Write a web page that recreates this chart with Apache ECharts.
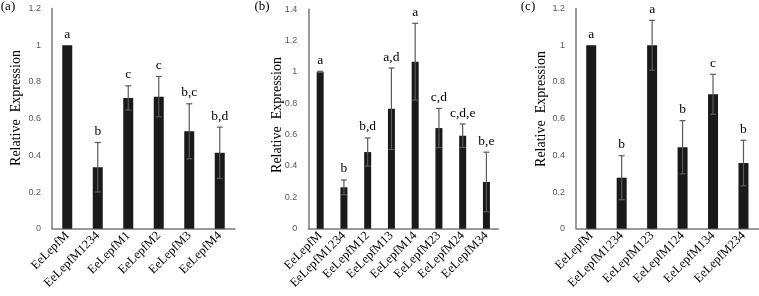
<!DOCTYPE html>
<html>
<head>
<meta charset="utf-8">
<script src="https://cdn.jsdelivr.net/npm/echarts@6/dist/echarts.min.js"></script>
<style>html,body{margin:0;padding:0;background:#fff;}#c{width:759px;height:296px;}</style>
</head>
<body>
<div id="c"></div>
<script>
// Panel (a)
const catsA = ['EeLepfM','EeLepfM1234','EeLepfM1','EeLepfM2','EeLepfM3','EeLepfM4'];
const valsA = [1.0, 0.335, 0.713, 0.72, 0.531, 0.414];
const errsA = [0, 0.135, 0.066, 0.11, 0.15, 0.14];
const lettersA = ['a','b','c','c','b,c','b,d'];
// Panel (b)
const catsB = ['EeLepfM','EeLepfM1234','EeLepfM12','EeLepfM13','EeLepfM14','EeLepfM23','EeLepfM24','EeLepfM34'];
const valsB = [1.0, 0.264, 0.489, 0.765, 1.065, 0.642, 0.593, 0.298];
const errsB = [0.004, 0.047, 0.09, 0.26, 0.245, 0.125, 0.075, 0.19];
const lettersB = ['a','b','b,d','a,d','a','c,d','c,d,e','b,e'];
// Panel (c)
const catsC = ['EeLepfM','EeLepfM1234','EeLepfM123','EeLepfM124','EeLepfM134','EeLepfM234'];
const valsC = [1.0, 0.278, 1.0, 0.444, 0.733, 0.358];
const errsC = [0, 0.12, 0.136, 0.145, 0.109, 0.124];
const lettersC = ['a','b','a','b','c','b'];
// axis ranges
const yMaxA = 1.2, yMaxB = 1.4, yMaxC = 1.2;
const panelLabels = ['(a)','(b)','(c)'];
const yName = 'Relative  Expression';

const serif = '"Liberation Serif","Times New Roman",serif';
const sans = '"Liberation Sans",Arial,sans-serif';
const axisCol = '#7a7a7a';
const barCol = '#1a1a1a';
const errCol = '#5a5a5a';

const panels = [
  {cats: catsA, vals: valsA, errs: errsA, letters: lettersA, max: yMaxA,
   grid: {left: 52, top: 8.6, width: 183, height: 220.1}, bw: 10, nameX: 16, nameY: 108, lab: [8, 7]},
  {cats: catsB, vals: valsB, errs: errsB, letters: lettersB, max: yMaxB,
   grid: {left: 308.3, top: 9.2, width: 190, height: 219.5}, bw: 7, nameX: 277, nameY: 115, lab: [262, 7]},
  {cats: catsC, vals: valsC, errs: errsC, letters: lettersC, max: yMaxC,
   grid: {left: 576, top: 8.6, width: 182.7, height: 220.1}, bw: 10, nameX: 541, nameY: 109, lab: [528, 7]}
];

const grid = [], xAxis = [], yAxis = [], series = [], graphic = [];
panels.forEach((p, i) => {
  grid.push(Object.assign({containLabel: false}, p.grid));
  xAxis.push({
    type: 'category', gridIndex: i, data: p.cats,
    axisLine: {lineStyle: {color: axisCol, width: 1.5}},
    axisTick: {show: false},
    axisLabel: {interval: 0, rotate: 45, margin: 5, fontFamily: serif, fontSize: 12.5, color: '#000'}
  });
  yAxis.push({
    type: 'value', gridIndex: i, min: 0, max: p.max, interval: 0.2,
    axisLine: {show: true, lineStyle: {color: axisCol, width: 1.5}},
    axisTick: {show: false},
    splitLine: {show: false},
    axisLabel: {margin: 11, fontFamily: sans, fontSize: 9, color: '#595959'}
  });
  series.push({
    type: 'bar', xAxisIndex: i, yAxisIndex: i, data: p.vals,
    barWidth: p.bw, itemStyle: {color: barCol}, z: 2, silent: true
  });
  series.push({
    type: 'custom', xAxisIndex: i, yAxisIndex: i, z: 5, silent: true,
    data: p.vals.map((v, k) => [k, v, p.errs[k]]),
    renderItem: function (params, api) {
      const k = api.value(0), v = api.value(1), e = api.value(2);
      const letter = p.letters[k];
      const top = api.coord([k, v + e]);
      const bot = api.coord([k, v - e]);
      const children = [];
      if (e > 0) {
        const st = {stroke: errCol, lineWidth: 1.2};
        children.push({type: 'line', shape: {x1: top[0], y1: top[1], x2: bot[0], y2: bot[1]}, style: st});
        children.push({type: 'line', shape: {x1: top[0] - 3, y1: top[1], x2: top[0] + 3, y2: top[1]}, style: st});
        children.push({type: 'line', shape: {x1: bot[0] - 3, y1: bot[1], x2: bot[0] + 3, y2: bot[1]}, style: st});
      }
      children.push({type: 'text', style: {text: letter, x: top[0], y: top[1] - 4,
        textAlign: 'center', textVerticalAlign: 'bottom', font: '13.5px ' + serif, fill: '#000'}});
      return {type: 'group', children: children};
    }
  });
  graphic.push({
    type: 'text', rotation: Math.PI / 2, x: p.nameX, y: p.nameY,
    style: {text: yName, font: '14px ' + serif, fill: '#000', textAlign: 'center', textVerticalAlign: 'middle'}
  });
  graphic.push({type: 'text', x: p.lab[0], y: p.lab[1],
    style: {text: panelLabels[i], font: '13px ' + serif, fill: '#000', textAlign: 'center', textVerticalAlign: 'middle'}});
});

const chart = echarts.init(document.getElementById('c'), null, {renderer: 'canvas'});
chart.setOption({animation: false, backgroundColor: '#fff', grid, xAxis, yAxis, series, graphic});
</script>
</body>
</html>
